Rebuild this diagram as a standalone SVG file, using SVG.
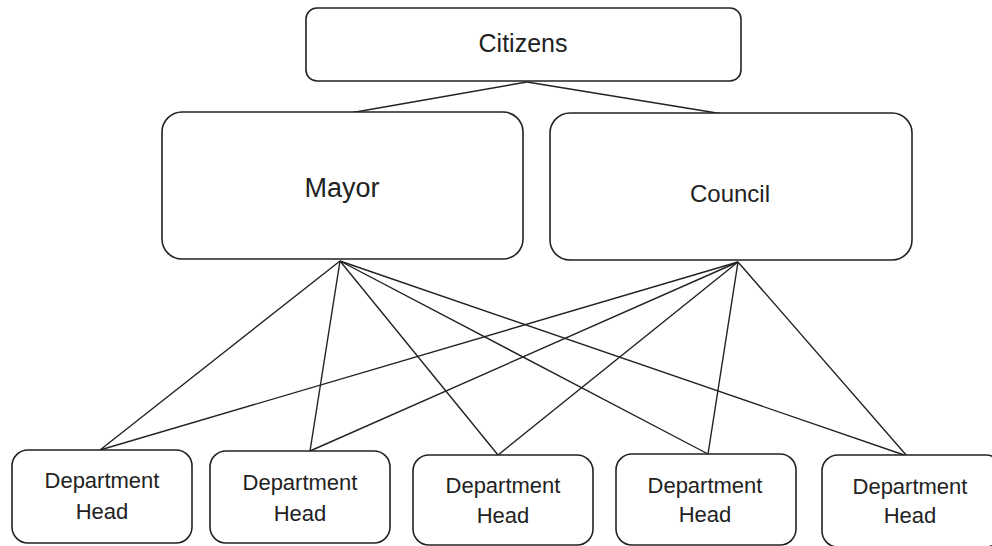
<svg xmlns="http://www.w3.org/2000/svg" width="992" height="546" viewBox="0 0 992 546">
<style>
.box{fill:#fff;stroke:#222;stroke-width:1.6}
.lbl{font-family:"Liberation Sans",Arial,sans-serif;fill:#222;text-anchor:middle}
.dep{font-size:22px}
.conn line{stroke:#222;stroke-width:1.4}
</style>
<rect width="992" height="546" fill="#fff"/>
<g class="conn">
<line x1="527" y1="82" x2="350" y2="113"/>
<line x1="527" y1="82" x2="723" y2="114"/>
<line x1="340" y1="261" x2="100" y2="450"/>
<line x1="340" y1="261" x2="310" y2="451"/>
<line x1="340" y1="261" x2="498" y2="455"/>
<line x1="340" y1="261" x2="708" y2="454"/>
<line x1="340" y1="261" x2="907" y2="456"/>
<line x1="738" y1="262" x2="100" y2="450"/>
<line x1="738" y1="262" x2="310" y2="451"/>
<line x1="738" y1="262" x2="498" y2="455"/>
<line x1="738" y1="262" x2="708" y2="454"/>
<line x1="738" y1="262" x2="907" y2="456"/>
</g>
<g id="citizens">
<rect class="box" x="306" y="8" width="435" height="73" rx="11"/>
<text class="lbl" x="523" y="52" font-size="25">Citizens</text>
</g>
<g id="mayor">
<rect class="box" x="162" y="112" width="361" height="147" rx="20"/>
<text class="lbl" x="342" y="197" font-size="27">Mayor</text>
</g>
<g id="council">
<rect class="box" x="550" y="113" width="362" height="147" rx="20"/>
<text class="lbl" x="730" y="202" font-size="24">Council</text>
</g>
<g id="dept1">
<rect class="box" x="12" y="450" width="180" height="93" rx="16"/>
<text class="lbl dep" x="102" y="488">Department</text>
<text class="lbl dep" x="102" y="519">Head</text>
</g>
<g id="dept2">
<rect class="box" x="210" y="451" width="180" height="92" rx="16"/>
<text class="lbl dep" x="300" y="490">Department</text>
<text class="lbl dep" x="300" y="521">Head</text>
</g>
<g id="dept3">
<rect class="box" x="413" y="455" width="180" height="90" rx="16"/>
<text class="lbl dep" x="503" y="493">Department</text>
<text class="lbl dep" x="503" y="523">Head</text>
</g>
<g id="dept4">
<rect class="box" x="616" y="454" width="180" height="91" rx="16"/>
<text class="lbl dep" x="705" y="493">Department</text>
<text class="lbl dep" x="705" y="522">Head</text>
</g>
<g id="dept5">
<rect class="box" x="822" y="455" width="180" height="92" rx="16"/>
<text class="lbl dep" x="910" y="494">Department</text>
<text class="lbl dep" x="910" y="523">Head</text>
</g>
</svg>
